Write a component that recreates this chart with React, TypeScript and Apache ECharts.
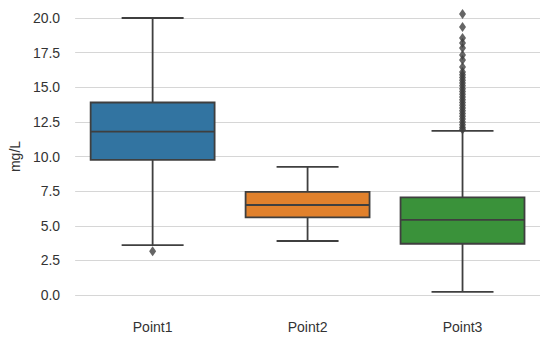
import React, { useEffect, useRef } from "react";
import * as echarts from "echarts";

const categories = ["Point1", "Point2", "Point3"];
// [whiskerLow, Q1, median, Q3, whiskerHigh]
const boxStats = [
  [3.6, 9.75, 11.8, 13.9, 20.0],
  [3.9, 5.6, 6.5, 7.45, 9.25],
  [0.22, 3.7, 5.42, 7.05, 11.85],
];
const boxColors = ["#3274A1", "#E1812C", "#3A923A"];
const yTicks = [0, 2.5, 5, 7.5, 10, 12.5, 15, 17.5, 20];
const outliersPoint1 = [3.15];
const outliersPoint3 = [
  20.29, 19.35, 18.56, 18.2, 17.83, 17.33, 16.97, 16.46, 16.1, 15.9, 15.7,
  15.5, 15.3, 15.1, 14.9, 14.7, 14.5, 14.3, 14.1, 13.9, 13.7, 13.5, 13.3,
  13.1, 12.9, 12.7, 12.5, 12.3, 12.1, 11.95,
];

export default function App() {
  const ref = useRef<HTMLDivElement>(null);
  useEffect(() => {
    if (!ref.current) return;
    const chart = echarts.init(ref.current, undefined, { renderer: "svg" });
    const lineColor = "#3f3f3f";
    const font = "Liberation Sans, Arial, sans-serif";
    const customData = boxStats.map((s, i) => [i, ...s]);
    const outlierData = [
      ...outliersPoint1.map((v) => [0, v]),
      ...outliersPoint3.map((v) => [2, v]),
    ];
    chart.setOption({
      animation: false,
      grid: { left: 72, right: 10, top: 18, bottom: 50 },
      xAxis: {
        type: "category",
        data: categories,
        axisLine: { show: false },
        axisTick: { show: false },
        axisLabel: { color: "#333", fontSize: 14, margin: 25, fontFamily: font },
        splitLine: { show: false },
      },
      yAxis: {
        type: "value",
        min: yTicks[0],
        max: yTicks[yTicks.length - 1],
        interval: 2.5,
        name: "mg/L",
        nameLocation: "middle",
        nameGap: 48,
        nameTextStyle: { color: "#333", fontSize: 14, fontFamily: font },
        axisLine: { show: false },
        axisTick: { show: false },
        axisLabel: {
          color: "#333",
          fontSize: 14,
          margin: 15,
          fontFamily: font,
          formatter: (v: number) => v.toFixed(1),
        },
        splitLine: { show: true, lineStyle: { color: "#d6d6d6", width: 1 } },
      },
      series: [
        {
          type: "custom",
          clip: false,
          data: customData,
          encode: { x: 0, y: [1, 2, 3, 4, 5] },
          renderItem: (params: any, api: any) => {
            const idx = api.value(0);
            const lo = api.value(1);
            const q1 = api.value(2);
            const med = api.value(3);
            const q3 = api.value(4);
            const hi = api.value(5);
            const band = api.size([1, 0])[0];
            const bw = band * 0.8;
            const cw = bw * 0.5;
            const pLo = api.coord([idx, lo]);
            const pQ1 = api.coord([idx, q1]);
            const pMed = api.coord([idx, med]);
            const pQ3 = api.coord([idx, q3]);
            const pHi = api.coord([idx, hi]);
            const x = pLo[0];
            const ls = { stroke: lineColor, lineWidth: 1.8 };
            return {
              type: "group",
              children: [
                { type: "line", shape: { x1: x, y1: pHi[1], x2: x, y2: pQ3[1] }, style: ls },
                { type: "line", shape: { x1: x, y1: pQ1[1], x2: x, y2: pLo[1] }, style: ls },
                { type: "line", shape: { x1: x - cw / 2, y1: pHi[1], x2: x + cw / 2, y2: pHi[1] }, style: ls },
                { type: "line", shape: { x1: x - cw / 2, y1: pLo[1], x2: x + cw / 2, y2: pLo[1] }, style: ls },
                {
                  type: "rect",
                  shape: { x: x - bw / 2, y: pQ3[1], width: bw, height: pQ1[1] - pQ3[1] },
                  style: { fill: boxColors[idx], stroke: lineColor, lineWidth: 1.8 },
                },
                { type: "line", shape: { x1: x - bw / 2, y1: pMed[1], x2: x + bw / 2, y2: pMed[1] }, style: ls },
              ],
            };
          },
        },
        {
          type: "scatter",
          clip: false,
          data: outlierData,
          symbol: "diamond",
          symbolSize: [7, 10],
          itemStyle: { color: lineColor },
        },
      ],
    });
    return () => chart.dispose();
  }, []);
  return <div ref={ref} style={{ width: 550, height: 345, position: "absolute", left: 0, top: 0 }} />;
}
